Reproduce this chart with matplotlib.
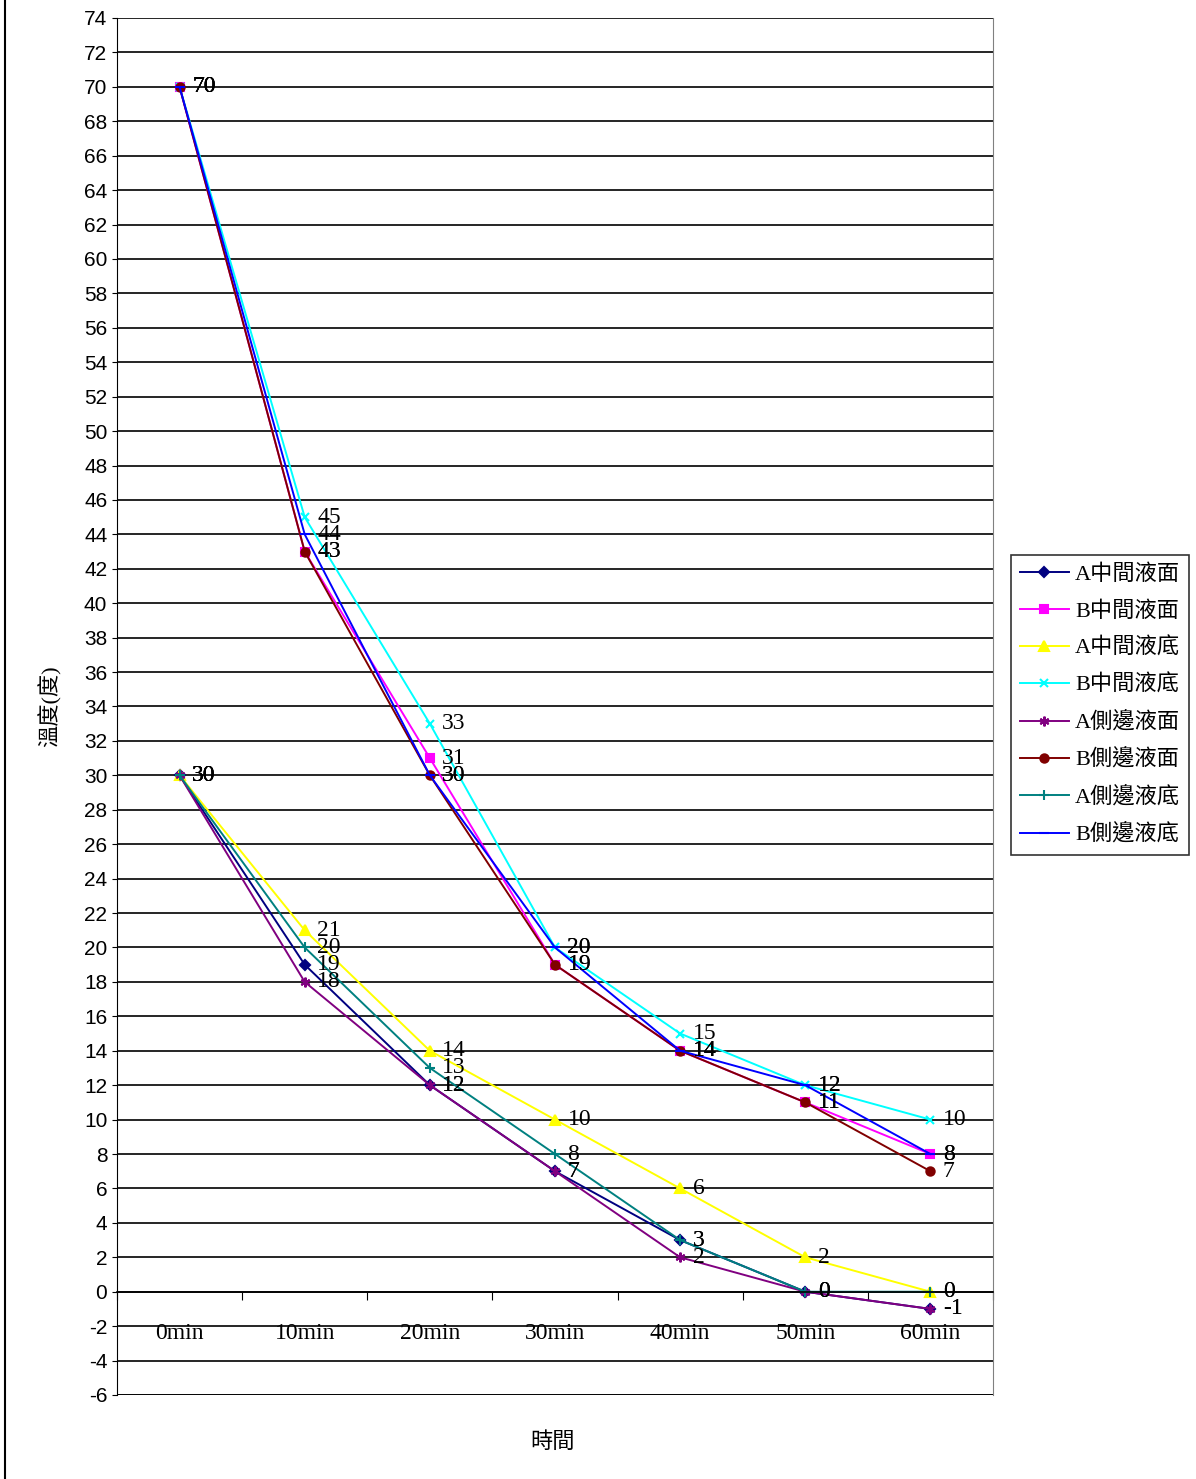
import matplotlib.pyplot as plt

plt.rcParams['font.family'] = ['Liberation Serif', 'Noto Sans CJK TC', 'DejaVu Sans']

# 時間點
times = ['0min', '10min', '20min', '30min', '40min', '50min', '60min']

# 各測點溫度
a_mid_top = [30, 19, 12, 7, 3, 0, -1]
b_mid_top = [70, 43, 31, 19, 14, 11, 8]
a_mid_bot = [30, 21, 14, 10, 6, 2, 0]
b_mid_bot = [70, 45, 33, 20, 15, 12, 10]
a_side_top = [30, 18, 12, 7, 2, 0, -1]
b_side_top = [70, 43, 30, 19, 14, 11, 7]
a_side_bot = [30, 20, 13, 8, 3, 0, 0]
b_side_bot = [70, 44, 30, 20, 14, 12, 8]

series = [
    ('A中間液面', a_mid_top, '#000080', 'D', 5.5),
    ('B中間液面', b_mid_top, '#FF00FF', 's', 6),
    ('A中間液底', a_mid_bot, '#FFFF00', '^', 7),
    ('B中間液底', b_mid_bot, '#00FFFF', 'x', 6),
    ('A側邊液面', a_side_top, '#800080', (6, 2, 0), 7),
    ('B側邊液面', b_side_top, '#800000', 'o', 6),
    ('A側邊液底', a_side_bot, '#008080', '+', 7),
    ('B側邊液底', b_side_bot, '#0000FF', '_', 7),
]

fig = plt.figure(figsize=(11.96, 14.79), dpi=100)
ax = fig.add_axes([117 / 1196, 1 - 1395 / 1479, 876 / 1196, 1377 / 1479])

x = [i + 0.5 for i in range(len(times))]
for name, vals, color, marker, ms in series:
    ax.plot(x, vals, color=color, lw=1.4, marker=marker, ms=ms,
            mec=color, mfc=color, mew=1.5, label=name)
    for xi, v in zip(x, vals):
        ax.annotate(str(v), (xi, v), xytext=(9, 0), textcoords='offset points',
                    ha='left', va='center', fontsize=17, color='black')

ax.set_xlim(0, 7)
ax.set_ylim(-6, 74)
ax.set_yticks(range(-6, 75, 2))
ax.set_yticklabels([str(v) for v in range(-6, 75, 2)], family='Liberation Sans', fontsize=15)
ax.yaxis.grid(True, color='black', lw=1.2)
ax.set_axisbelow(True)

# 類別軸在 0 度的位置
ax.spines['bottom'].set_position(('data', 0))
ax.spines['bottom'].set_linewidth(1.2)
ax.spines['right'].set_color('#808080')
ax.spines['top'].set_visible(False)
ax.axhline(-6, color='black', lw=1.2)
ax.set_xticks(range(8))
ax.set_xticklabels([''] * 8)
ax.tick_params(axis='x', direction='out', length=6)
for xi, t in zip(x, times):
    ax.text(xi, -2.4, t, ha='center', va='center', fontsize=17)

ax.set_ylabel('溫度(度)', fontsize=16, labelpad=16)
fig.text(553 / 1196, 1 - 1443 / 1479, '時間', ha='center', va='center', fontsize=16)

leg = fig.legend(loc='center', bbox_to_anchor=(1100 / 1196, 1 - 705 / 1479),
                 fontsize=16, frameon=True, fancybox=False, edgecolor='black',
                 handlelength=2.2, labelspacing=0.72, borderpad=0.4, handletextpad=0.3)
leg.get_frame().set_linewidth(1.2)

# 圖表外框
fig.add_artist(plt.Line2D([5 / 1196, 5 / 1196], [0, 1], color='black', lw=1.5,
                          transform=fig.transFigure))

fig.savefig('out.png', dpi=100)
